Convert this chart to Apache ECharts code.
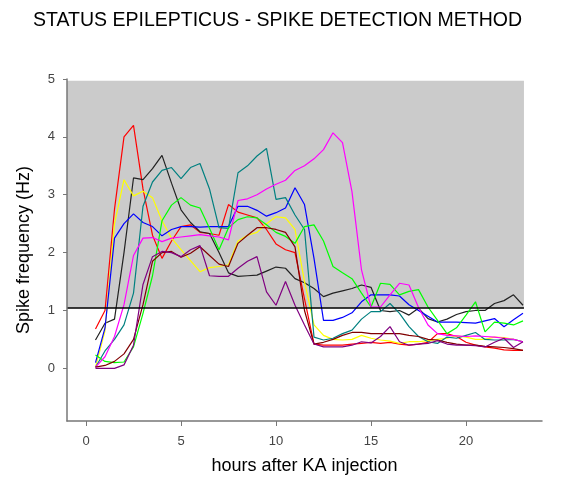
<!DOCTYPE html>
<html>
<head>
<meta charset="utf-8">
<script src="https://cdn.jsdelivr.net/npm/echarts@6.0.0/dist/echarts.min.js"></script>
<style>
html,body{margin:0;padding:0;background:#fff;}
#chart{width:574px;height:486px;}
</style>
</head>
<body>
<div id="chart"></div>
<script>
var hours = [0.5,1,1.5,2,2.5,3,3.5,4,4.5,5,5.5,6,6.5,7,7.5,8,8.5,9,9.5,10,10.5,11,11.5,12,12.5,13,13.5,14,14.5,15,15.5,16,16.5,17,17.5,18,18.5,19,19.5,20,20.5,21,21.5,22,22.5,23];

var red     = [0.68,1.0,2.75,4.0,4.2,3.1,2.3,1.9,2.2,2.45,2.48,2.35,2.33,2.3,2.83,2.7,2.65,2.6,2.4,2.15,2.05,2.0,1.2,0.42,0.4,0.4,0.4,0.42,0.43,0.45,0.43,0.45,0.42,0.4,0.42,0.45,0.6,0.6,0.55,0.45,0.4,0.37,0.35,0.32,0.31,0.31];
var black   = [0.49,0.78,0.85,2.0,3.29,3.26,3.45,3.68,3.2,2.74,2.52,2.36,2.33,2.0,1.65,1.59,1.6,1.61,1.68,1.75,1.73,1.55,1.48,1.38,1.24,1.3,1.34,1.38,1.44,1.4,1.0,0.98,1.0,0.92,1.04,0.86,0.8,0.85,0.93,0.98,1.0,1.0,1.12,1.17,1.27,1.09];
var yellow  = [0.02,0.65,2.5,3.26,2.98,3.06,2.95,2.55,2.25,2.05,1.86,1.67,1.74,1.76,1.79,2.2,2.3,2.35,2.5,2.62,2.6,2.4,1.5,0.75,0.57,0.5,0.49,0.5,0.57,0.52,0.49,0.47,0.43,0.46,0.46,0.48,0.5,0.52,0.56,0.54,0.5,0.5,0.54,0.53,0.5,0.46];
var blue    = [0.1,0.7,2.25,2.5,2.67,2.52,2.45,2.29,2.4,2.45,2.45,2.44,2.45,2.45,2.45,2.8,2.8,2.73,2.63,2.69,2.77,3.12,2.83,1.9,0.83,0.83,0.88,0.96,1.15,1.27,1.27,1.27,1.25,1.1,1.0,0.9,0.8,0.8,0.8,0.79,0.78,0.82,0.86,0.72,0.84,0.95];
var teal    = [0.02,0.3,0.5,0.75,1.3,2.8,3.22,3.42,3.47,3.28,3.47,3.54,3.1,2.43,2.42,3.38,3.5,3.67,3.8,2.92,2.95,2.65,2.4,0.54,0.49,0.52,0.6,0.66,0.85,0.98,0.98,1.12,0.95,0.72,0.55,0.46,0.43,0.54,0.52,0.57,0.62,0.5,0.49,0.49,0.5,0.46];
var green   = [0.23,0.12,0.1,0.11,0.37,0.95,1.6,2.55,2.82,2.95,2.82,2.77,2.42,2.05,2.43,2.57,2.62,2.6,2.48,2.35,2.28,2.16,2.45,2.48,2.2,1.76,1.65,1.55,1.3,1.06,1.47,1.45,1.27,1.33,1.36,1.06,0.83,0.6,0.7,0.92,1.15,0.63,0.8,0.78,0.75,0.82];
var magenta = [0.02,0.2,0.55,1.1,1.95,2.25,2.26,2.19,2.25,2.27,2.29,2.31,2.29,2.27,2.22,2.9,2.93,3.0,3.1,3.18,3.25,3.42,3.5,3.62,3.78,4.07,3.9,3.05,1.7,1.06,1.06,1.27,1.47,1.44,1.05,0.75,0.6,0.57,0.56,0.55,0.56,0.55,0.54,0.52,0.5,0.46];
var brown   = [0.02,0.05,0.12,0.25,0.5,1.1,1.85,2.0,2.02,1.92,1.99,2.1,1.95,1.8,1.76,2.16,2.3,2.43,2.43,2.4,2.35,2.1,1.0,0.42,0.45,0.5,0.57,0.62,0.62,0.6,0.6,0.6,0.6,0.57,0.55,0.5,0.49,0.45,0.42,0.4,0.4,0.38,0.37,0.36,0.34,0.31];
var purple  = [0.0,0.0,0.0,0.06,0.4,1.45,1.93,2.02,2.0,1.93,2.05,2.12,1.6,1.59,1.59,1.73,1.85,1.93,1.32,1.09,1.5,1.09,0.75,0.42,0.37,0.37,0.37,0.4,0.46,0.44,0.55,0.72,0.46,0.4,0.42,0.43,0.48,0.42,0.4,0.4,0.39,0.37,0.45,0.52,0.36,0.46];

var xTicks = [0,5,10,15,20];
var yTicks = [0,1,2,3,4,5];
var threshold = 1.04;
var shadeTop = 4.97;
var shadeEnd = 23.05;

var seriesDefs = [
  {name:'red', data:red, color:'#ff0000'},
  {name:'black', data:black, color:'#222222'},
  {name:'yellow', data:yellow, color:'#ffff00'},
  {name:'blue', data:blue, color:'#0000ff'},
  {name:'teal', data:teal, color:'#008080'},
  {name:'green', data:green, color:'#00ff00'},
  {name:'magenta', data:magenta, color:'#ff00ff'},
  {name:'brown', data:brown, color:'#800000'},
  {name:'purple', data:purple, color:'#800080'}
];

var FONT = 'Liberation Sans, Arial, sans-serif';

var series = [{
  type:'line', data:[], silent:true, z:1,
  markArea:{silent:true, itemStyle:{color:'#cbcbcb'},
    data:[[{coord:[-1, threshold]},{coord:[shadeEnd, shadeTop]}]]},
  markLine:{silent:true, symbol:['none','none'], label:{show:false},
    lineStyle:{color:'#000', width:1.5, type:'solid'},
    data:[[{coord:[-1, threshold]},{coord:[shadeEnd, threshold]}]]}
}];
seriesDefs.forEach(function(s){
  series.push({
    name:s.name, type:'line', z:2,
    data: hours.map(function(h,i){return [h, s.data[i]];}),
    showSymbol:false, symbol:'none',
    lineStyle:{color:s.color, width:1.2},
    itemStyle:{color:s.color}
  });
});

var chart = echarts.init(document.getElementById('chart'));
chart.setOption({
  animation:false,
  backgroundColor:'#fff',
  title:{text:'STATUS EPILEPTICUS - SPIKE DETECTION METHOD', left:28, top:6,
    textStyle:{fontFamily:FONT, fontSize:19.5, fontWeight:'normal', color:'#000'}},
  grid:{left:67, right:32, top:79, bottom:65},
  xAxis:{type:'value', min:-1, max:24, z:5,
    name:'hours after KA injection', nameLocation:'middle', nameGap:36,
    nameTextStyle:{fontFamily:FONT, fontSize:18, color:'#000'},
    axisLine:{onZero:false, lineStyle:{color:'#777', width:1.5}},
    axisTick:{show:true, customValues:xTicks, length:5, lineStyle:{color:'#777'}},
    axisLabel:{customValues:xTicks, fontFamily:FONT, fontSize:13, color:'#444', margin:14},
    splitLine:{show:false}},
  yAxis:{type:'value', min:-0.91, max:5, z:5,
    name:'Spike frequency (Hz)', nameLocation:'middle', nameGap:34,
    nameTextStyle:{fontFamily:FONT, fontSize:18, color:'#000'},
    axisLine:{show:true, onZero:false, lineStyle:{color:'#777', width:1.5}},
    axisTick:{show:true, customValues:yTicks, length:4, lineStyle:{color:'#777'}},
    axisLabel:{customValues:yTicks, fontFamily:FONT, fontSize:13, color:'#444', margin:12},
    splitLine:{show:false}},
  series:series
});
</script>
</body>
</html>
